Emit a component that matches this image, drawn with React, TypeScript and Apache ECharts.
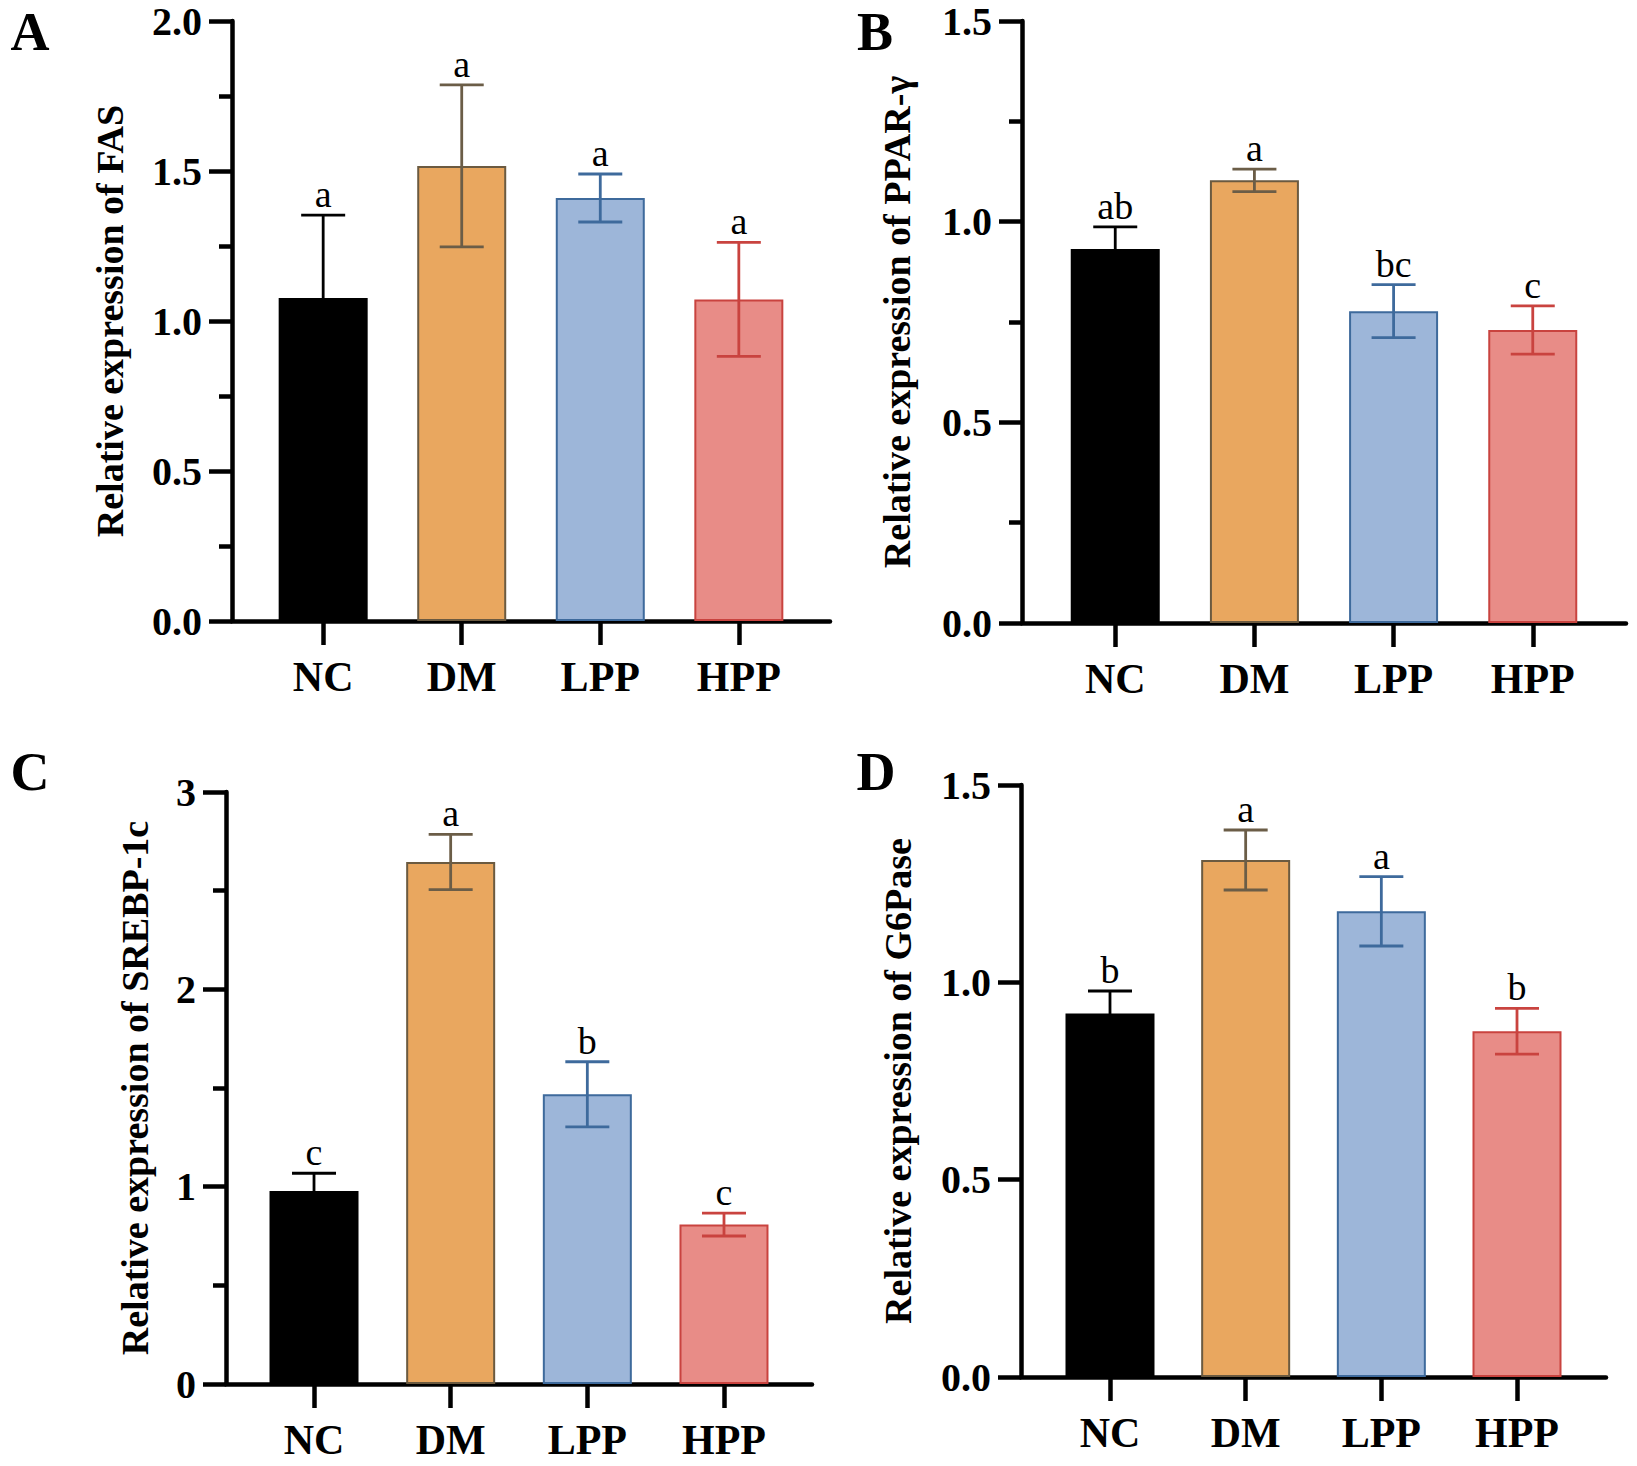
import React, { useEffect, useRef } from "react";
import * as echarts from "echarts";

const categories = ["NC", "DM", "LPP", "HPP"];

const fasMean = [1.077, 1.517, 1.41, 1.072];
const fasSd = [0.276, 0.27, 0.08, 0.19];
const fasLetters = ["a", "a", "a", "a"];

const pparMean = [0.932, 1.103, 0.777, 0.73];
const pparSd = [0.055, 0.028, 0.066, 0.06];
const pparLetters = ["ab", "a", "bc", "c"];

const srebpMean = [0.978, 2.645, 1.468, 0.808];
const srebpSd = [0.09, 0.14, 0.165, 0.058];
const srebpLetters = ["c", "a", "b", "c"];

const g6Mean = [0.921, 1.31, 1.18, 0.876];
const g6Sd = [0.057, 0.076, 0.088, 0.058];
const g6Letters = ["b", "a", "a", "b"];

const yTitles = [
  "Relative expression of FAS",
  "Relative expression of PPAR-\u03b3",
  "Relative expression of SREBP-1c",
  "Relative expression of G6Pase",
];
const panelLetters = ["A", "B", "C", "D"];

const fills = ["#000000", "#E9A75F", "#9DB6D9", "#E88C87"];
const borders = ["#000000", "#6B5A40", "#3E6A9C", "#C9433F"];
const errColors = ["#000000", "#6B5D47", "#3E6A9C", "#C9433F"];

const FONT = '"Liberation Serif", "Times New Roman", serif';

type Panel = {
  mean: number[];
  sd: number[];
  letters: string[];
  yMax: number;
  yInterval: number;
  minor: boolean;
  decimals: number;
  left: number;
  top: number;
  bottom: number;
  right: number;
  margin: number;
  nameGap: number;
  letterX: number;
  letterY: number;
};

const panels: Panel[] = [
  { mean: fasMean, sd: fasSd, letters: fasLetters, yMax: 2, yInterval: 0.5, minor: true, decimals: 1,
    left: 232, top: 21, bottom: 621, right: 830, margin: 0.658, nameGap: 103, letterX: 30, letterY: 32 },
  { mean: pparMean, sd: pparSd, letters: pparLetters, yMax: 1.5, yInterval: 0.5, minor: true, decimals: 1,
    left: 1022, top: 21, bottom: 623, right: 1626, margin: 0.67, nameGap: 106, letterX: 875, letterY: 32 },
  { mean: srebpMean, sd: srebpSd, letters: srebpLetters, yMax: 3, yInterval: 1, minor: true, decimals: 0,
    left: 226, top: 792, bottom: 1384, right: 812, margin: 0.644, nameGap: 72, letterX: 30, letterY: 772 },
  { mean: g6Mean, sd: g6Sd, letters: g6Letters, yMax: 1.5, yInterval: 0.5, minor: false, decimals: 1,
    left: 1021, top: 785, bottom: 1377, right: 1606, margin: 0.656, nameGap: 104, letterX: 876, letterY: 772 },
];

export default function App() {
  const ref = useRef<HTMLDivElement>(null);
  useEffect(() => {
    if (!ref.current) return;
    const chart = echarts.init(ref.current, undefined, { renderer: "svg" });
    const grid: any[] = [];
    const xAxis: any[] = [];
    const yAxis: any[] = [];
    const series: any[] = [];
    const graphic: any[] = [];
    panels.forEach((p, k) => {
      grid.push({ left: p.left, top: p.top, width: p.right - p.left, height: p.bottom - p.top, containLabel: false });
      xAxis.push({
        type: "value",
        gridIndex: k,
        min: -p.margin,
        max: 3 + p.margin,
        axisLine: { show: true, onZero: false, lineStyle: { color: "#000", width: 4.5 } },
        axisTick: { show: true, customValues: [0, 1, 2, 3], length: 24, lineStyle: { color: "#000", width: 4.5 } },
        axisLabel: {
          show: true,
          customValues: [0, 1, 2, 3],
          formatter: (v: number) => categories[Math.round(v)] ?? "",
          color: "#000",
          fontFamily: FONT,
          fontWeight: "bold",
          fontSize: 42,
          margin: 35,
        },
        splitLine: { show: false },
      });
      yAxis.push({
        type: "value",
        gridIndex: k,
        min: 0,
        max: p.yMax,
        interval: p.yInterval,
        name: yTitles[k],
        nameLocation: "middle",
        nameRotate: 90,
        nameGap: p.nameGap,
        nameTextStyle: { color: "#000", fontFamily: FONT, fontWeight: "bold", fontSize: 38 },
        axisLine: { show: true, onZero: false, lineStyle: { color: "#000", width: 4.5 } },
        axisTick: { show: true, length: 23, lineStyle: { color: "#000", width: 4.5 } },
        minorTick: { show: p.minor, splitNumber: 2, length: 13, lineStyle: { color: "#000", width: 4.5 } },
        minorSplitLine: { show: false },
        axisLabel: {
          color: "#000",
          fontFamily: FONT,
          fontWeight: "bold",
          fontSize: 40,
          margin: 30,
          formatter: (v: number) => v.toFixed(p.decimals),
        },
        splitLine: { show: false },
      });
      series.push({
        type: "bar",
        xAxisIndex: k,
        yAxisIndex: k,
        barWidth: 89,
        data: p.mean.map((v, i) => ({
          value: [i, v],
          itemStyle: { color: fills[i], borderColor: borders[i], borderWidth: 2 },
        })),
        z: 2,
      });
      series.push({
        type: "custom",
        xAxisIndex: k,
        yAxisIndex: k,
        z: 3,
        data: p.mean.map((v, i) => [i, v, p.sd[i]]),
        renderItem: (params: any, api: any) => {
          const i = params.dataIndex;
          const x = api.value(0);
          const m = api.value(1);
          const s = api.value(2);
          const top = api.coord([x, m + s]);
          const bot = api.coord([x, m - s]);
          const half = 22;
          const col = errColors[i];
          const ls = { stroke: col, lineWidth: 2.8 };
          return {
            type: "group",
            children: [
              { type: "line", shape: { x1: top[0], y1: top[1], x2: bot[0], y2: bot[1] }, style: ls },
              { type: "line", shape: { x1: top[0] - half, y1: top[1], x2: top[0] + half, y2: top[1] }, style: ls },
              { type: "line", shape: { x1: bot[0] - half, y1: bot[1], x2: bot[0] + half, y2: bot[1] }, style: ls },
              {
                type: "text",
                x: top[0],
                y: top[1] - 2,
                style: {
                  text: p.letters[i],
                  fill: "#000",
                  fontFamily: FONT,
                  fontSize: 38,
                  align: "center",
                  verticalAlign: "bottom",
                },
              },
            ],
          };
        },
      });
      graphic.push({
        type: "text",
        x: p.letterX,
        y: p.letterY,
        style: {
          text: panelLetters[k],
          fill: "#000",
          fontFamily: FONT,
          fontWeight: "bold",
          fontSize: 54,
          align: "center",
          verticalAlign: "middle",
        },
      });
    });
    chart.setOption({
      animation: false,
      backgroundColor: "#ffffff",
      grid,
      xAxis,
      yAxis,
      series,
      graphic,
    });
    return () => chart.dispose();
  }, []);
  return (
    <div
      ref={ref}
      style={{ position: "absolute", left: 0, top: 0, width: 1637, height: 1466, background: "#fff" }}
    />
  );
}
